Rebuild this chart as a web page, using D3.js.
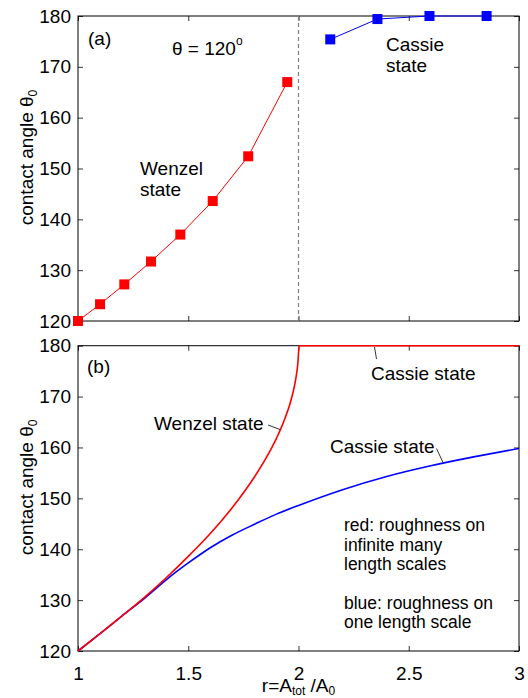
<!DOCTYPE html>
<html>
<head>
<meta charset="utf-8">
<script src="https://cdn.jsdelivr.net/npm/d3@7"></script>
<style>
  body { margin: 0; background: #fff; }
  svg { font-family: "Liberation Sans", Arial, sans-serif; }
</style>
</head>
<body>
<div id="chart"></div>
<script>
// panel (a): simulated points
var rWenzelA = [1, 1.1, 1.21, 1.331, 1.464, 1.611, 1.772, 1.949];
var thetaWenzelA = [120, 123.3, 127.2, 131.7, 137.0, 143.6, 152.4, 167.0];
var rCassieA = [2.144, 2.358, 2.594, 2.853];
var thetaCassieA = [175.4, 179.4, 180, 180];

// panel (b): curves
var rRed = [1, 1.1, 1.2, 1.3, 1.4, 1.5, 1.6, 1.7, 1.8, 1.85, 1.9, 1.92, 1.94, 1.96, 1.975, 1.988, 1.997, 2.003, 2.5, 3];
var thetaRed = [120, 123.4, 126.9, 130.5, 134.4, 138.6, 143.1, 148.2, 154.2, 157.7, 161.8, 163.7, 165.9, 168.4, 170.8, 173.6, 176.5, 180, 180, 180];
var rBlue = [1, 1.1, 1.2, 1.3, 1.4, 1.5, 1.6, 1.7, 1.8, 1.9, 2.0, 2.2, 2.4, 2.6, 2.8, 3.0];
var thetaBlue = [120, 123.4, 126.9, 130.3, 134.0, 137.3, 140.3, 142.8, 144.9, 146.9, 148.6, 151.7, 154.3, 156.4, 158.2, 159.8];

var xTicks = [1, 1.5, 2, 2.5, 3];
var yTicks = [120, 130, 140, 150, 160, 170, 180];

var width = 528, height = 698;
var left = 78, right = 519;
var panels = [{top: 16, bottom: 321}, {top: 345.7, bottom: 651}];

var svg = d3.select("#chart").append("svg")
    .attr("width", width).attr("height", height);

var x = d3.scaleLinear().domain([1, 3]).range([left, right]);

function drawAxes(p, showXLabels) {
    var y = d3.scaleLinear().domain([120, 180]).range([p.bottom, p.top]);
    var g = svg.append("g");
    var tl = 5;

    g.append("g").attr("transform", "translate(0," + p.bottom + ")")
        .call(d3.axisBottom(x).tickValues(xTicks).tickSize(-tl).tickPadding(16)
            .tickFormat(showXLabels ? d3.format("") : ""));
    g.append("g").attr("transform", "translate(0," + p.top + ")")
        .call(d3.axisTop(x).tickValues(xTicks).tickSize(-tl).tickFormat(""));
    g.append("g").attr("transform", "translate(" + left + ",0)")
        .call(d3.axisLeft(y).tickValues(yTicks).tickSize(-tl).tickPadding(7));
    g.append("g").attr("transform", "translate(" + right + ",0)")
        .call(d3.axisRight(y).tickValues(yTicks).tickSize(-tl).tickFormat(""));

    g.selectAll(".domain").remove();
    g.selectAll(".tick line").attr("stroke", "#000").attr("stroke-width", 0.8);
    g.selectAll(".tick text").attr("font-size", 19).attr("fill", "#000")
        .attr("font-family", "Liberation Sans, Arial, sans-serif");

    g.append("rect")
        .attr("x", left).attr("y", p.top)
        .attr("width", right - left).attr("height", p.bottom - p.top)
        .attr("fill", "none").attr("stroke", "#000").attr("stroke-width", 1);

    // y label
    var yl = svg.append("text")
        .attr("transform", "translate(33," + ((p.top + p.bottom) / 2 - 11) + ") rotate(-90)")
        .attr("text-anchor", "middle").attr("font-size", 19);
    yl.append("tspan").text("contact angle \u03b8");
    yl.append("tspan").attr("font-size", 12).attr("dy", 4).text("0");
    return y;
}

function label(xp, yp, lines, size) {
    var t = svg.append("text").attr("font-size", size || 19).attr("fill", "#000");
    lines.forEach(function (s, i) {
        t.append("tspan").attr("x", xp).attr("y", yp + i * 20.5).text(s);
    });
    return t;
}

function leader(x1, y1, x2, y2) {
    svg.append("line").attr("x1", x1).attr("y1", y1).attr("x2", x2).attr("y2", y2)
        .attr("stroke", "#000").attr("stroke-width", 0.8);
}

// ---------- panel (a) ----------
var yA = drawAxes(panels[0], false);

svg.append("line")
    .attr("x1", x(2)).attr("x2", x(2))
    .attr("y1", panels[0].top).attr("y2", panels[0].bottom)
    .attr("stroke", "#7f7f7f").attr("stroke-width", 1.2)
    .attr("stroke-dasharray", "4,3");

var lineA = d3.line().x(d => x(d[0])).y(d => yA(d[1]));
var wenzelA = d3.zip(rWenzelA, thetaWenzelA);
var cassieA = d3.zip(rCassieA, thetaCassieA);

[[wenzelA, "#ff0000"], [cassieA, "#0000ff"]].forEach(function (s) {
    svg.append("path").datum(s[0]).attr("d", lineA)
        .attr("fill", "none").attr("stroke", s[1]).attr("stroke-width", 1);
    svg.selectAll(null).data(s[0]).enter().append("rect")
        .attr("x", d => x(d[0]) - 5).attr("y", d => yA(d[1]) - 5)
        .attr("width", 10).attr("height", 10)
        .attr("fill", s[1]);
});

label(88, 45, ["(a)"]);
var th = svg.append("text").attr("x", 172).attr("y", 55).attr("font-size", 19);
th.append("tspan").text("\u03b8 = 120");
th.append("tspan").attr("font-size", 12).attr("dy", -10).text("o");
label(140, 175, ["Wenzel", "state"]);
label(386, 51, ["Cassie", "state"]);

// ---------- panel (b) ----------
var yB = drawAxes(panels[1], true);

var lineB = d3.line().x(d => x(d[0])).y(d => yB(d[1])).curve(d3.curveMonotoneX);
svg.append("path").datum(d3.zip(rBlue, thetaBlue)).attr("d", lineB)
    .attr("fill", "none").attr("stroke", "#0000ff").attr("stroke-width", 1.6);
svg.append("path").datum(d3.zip(rRed, thetaRed)).attr("d", lineB)
    .attr("fill", "none").attr("stroke", "#ff0000").attr("stroke-width", 1.6);

label(87, 373, ["(b)"]);
label(154, 430, ["Wenzel state"]);
leader(268, 425, 280, 429.5);
label(371, 380, ["Cassie state"]);
leader(374.5, 347, 376.5, 359);
label(330, 452.5, ["Cassie state"]);
leader(436.5, 448.5, 443, 462.5);

var leg = svg.append("text").attr("font-size", 17.5);
[["red: roughness on", 531], ["infinite many", 550.5], ["length scales", 570],
 ["blue: roughness on", 609], ["one length scale", 628]].forEach(function (l) {
    leg.append("tspan").attr("x", 344).attr("y", l[1]).text(l[0]);
});

// x label
var xl = svg.append("text").attr("x", (left + right) / 2).attr("y", 692)
    .attr("text-anchor", "middle").attr("font-size", 19);
xl.append("tspan").text("r=A");
xl.append("tspan").attr("font-size", 12).attr("dy", 3).text("tot");
xl.append("tspan").attr("dy", -3).text(" /A");
xl.append("tspan").attr("font-size", 12).attr("dy", 3).text("0");
</script>
</body>
</html>
